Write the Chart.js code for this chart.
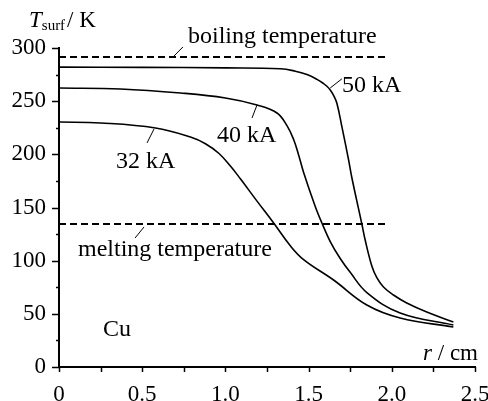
<!DOCTYPE html>
<html>
<head>
<meta charset="utf-8">
<script src="https://cdn.jsdelivr.net/npm/chart.js@4.4.1/dist/chart.umd.min.js"></script>
<style>
  html, body { margin: 0; padding: 0; background: #fff; }
  #wrap { width: 488px; height: 401px; position: relative; }
</style>
</head>
<body>
<div id="wrap"><canvas id="chart"></canvas></div>
<script>
// radius r (cm) and surface temperature (K)
const r32 = [0, 0.25, 0.58, 0.79, 0.88, 0.96, 1.03, 1.09, 1.19, 1.29, 1.39, 1.47, 1.65, 1.85, 2.05, 2.37];
const t32 = [230.4, 229.5, 224.8, 216.3, 210, 201, 189, 177, 156, 135.4, 114, 101, 81.8, 58.3, 46.1, 37.6];

const r40 = [0, 0.37, 0.73, 1.0, 1.19, 1.31, 1.37, 1.41, 1.44, 1.47, 1.54, 1.58, 1.63, 1.69, 1.75, 1.85, 2.05, 2.37];
const t40 = [262.4, 261.5, 257.7, 253, 246.4, 238.9, 227, 214, 199.4, 183, 151, 135.4, 118, 102, 89, 70, 50.8, 39.5];

const r50 = [0, 0.5, 1.0, 1.33, 1.42, 1.49, 1.55, 1.59, 1.61, 1.63, 1.65, 1.67, 1.70, 1.74, 1.76, 1.82, 1.84, 1.88, 1.91, 1.95, 2.01, 2.09, 2.21, 2.37];
const t50 = [282, 281.8, 281.3, 280.5, 278.2, 275, 270.5, 266.5, 264, 260.5, 255.5, 248, 226, 195, 178, 134.5, 119.4, 95, 84, 75.2, 67.7, 60.2, 51.7, 42.3];

const boilingR = [0, 1.97];
const boilingT = [291.5, 291.5];
const meltingR = [0, 1.97];
const meltingT = [134.5, 134.5];

const xTicks = [0, 0.5, 1.0, 1.5, 2.0, 2.5];
const xTickLabels = ['0', '0.5', '1.0', '1.5', '2.0', '2.5'];
const yTicks = [0, 50, 100, 150, 200, 250, 300];
const yTickLabels = ['0', '50', '100', '150', '200', '250', '300'];

const FONT = '"Liberation Serif", "Times New Roman", serif';

const toPoints = (xs, ys) => xs.map((x, i) => ({ x, y: ys[i] }));

const curve = (label, xs, ys) => ({
  label,
  data: toPoints(xs, ys),
  showLine: true,
  borderColor: '#000',
  borderWidth: 1.6,
  pointRadius: 0,
  tension: 0.4
});

const dashed = (label, xs, ys) => ({
  label,
  data: toPoints(xs, ys),
  showLine: true,
  borderColor: '#000',
  borderWidth: 2,
  borderDash: [7, 4],
  pointRadius: 0
});

// text labels with leader lines, placed in data units
const notes = [
  { text: 'boiling temperature', at: [0.775, 304.7], lead: [[0.685, 291.5], [0.745, 301]] },
  { text: 'melting temperature', at: [0.114, 104.4], lead: [[0.457, 121.3], [0.511, 131.7]] },
  { text: '50 kA', at: [1.70, 258.6], lead: [[1.63, 262.4], [1.70, 271]] },
  { text: '40 kA', at: [0.95, 211.6], lead: [[1.16, 234.2], [1.19, 246.4]] },
  { text: '32 kA', at: [0.343, 187.2], lead: [[0.529, 210.7], [0.571, 223.8]] },
  { text: 'Cu', at: [0.264, 29.2] }
];

const decorPlugin = {
  id: 'decor',
  afterDraw(chart) {
    const { ctx, scales: { x, y } } = chart;
    ctx.save();
    ctx.strokeStyle = '#000';
    ctx.fillStyle = '#000';
    ctx.lineWidth = 1.5;

    // y ticks (major every 50, minor every 25), pointing out
    const ax = x.getPixelForValue(0);
    for (let v = 0; v <= 300; v += 25) {
      const py = Math.round(y.getPixelForValue(v)) + 0.5;
      const len = v % 50 === 0 ? 7 : 3;
      ctx.beginPath();
      ctx.moveTo(ax, py);
      ctx.lineTo(ax - len, py);
      ctx.stroke();
    }
    // x ticks every 0.25, pointing down
    const ay = y.getPixelForValue(0);
    for (let i = 0; i <= 10; i++) {
      const px = Math.round(x.getPixelForValue(i * 0.25)) + 0.5;
      ctx.beginPath();
      ctx.moveTo(px, ay);
      ctx.lineTo(px, ay + 5);
      ctx.stroke();
    }

    // notes
    ctx.font = '24px ' + FONT;
    ctx.textBaseline = 'alphabetic';
    ctx.textAlign = 'left';
    ctx.lineWidth = 1;
    notes.forEach(n => {
      ctx.fillText(n.text, x.getPixelForValue(n.at[0]), y.getPixelForValue(n.at[1]));
      if (n.lead) {
        ctx.beginPath();
        ctx.moveTo(x.getPixelForValue(n.lead[0][0]), y.getPixelForValue(n.lead[0][1]));
        ctx.lineTo(x.getPixelForValue(n.lead[1][0]), y.getPixelForValue(n.lead[1][1]));
        ctx.stroke();
      }
    });

    // axis titles
    const top = y.getPixelForValue(300);
    ctx.font = 'italic 23px ' + FONT;
    ctx.fillText('T', 29, top - 21);
    const w = ctx.measureText('T').width;
    ctx.font = '15px ' + FONT;
    ctx.fillText('surf', 29 + w, top - 18);
    const w2 = ctx.measureText('surf').width;
    ctx.font = '23px ' + FONT;
    ctx.fillText('/ K', 29 + w + w2 + 2, top - 21);

    const right = x.getPixelForValue(2.5);
    ctx.textAlign = 'right';
    const cm = ' / cm';
    ctx.fillText(cm, right + 3, ay - 7);
    const wcm = ctx.measureText(cm).width;
    ctx.font = 'italic 23px ' + FONT;
    ctx.fillText('r', right + 3 - wcm, ay - 7);
    ctx.restore();
  }
};

new Chart(document.getElementById('chart'), {
  type: 'scatter',
  data: {
    datasets: [
      curve('32 kA', r32, t32),
      curve('40 kA', r40, t40),
      curve('50 kA', r50, t50),
      dashed('boiling temperature', boilingR, boilingT),
      dashed('melting temperature', meltingR, meltingT)
    ]
  },
  options: {
    responsive: true,
    maintainAspectRatio: false,
    animation: false,
    layout: { padding: { top: 48, right: 13, left: 0, bottom: 0 } },
    plugins: { legend: { display: false }, tooltip: { enabled: false } },
    scales: {
      x: {
        type: 'linear',
        min: 0,
        max: 2.5,
        afterBuildTicks: s => { s.ticks = xTicks.map(v => ({ value: v })); },
        afterFit: s => { s.height = 34; s.paddingLeft = 0; s.paddingRight = 0; },
        grid: { display: false, drawTicks: false },
        border: { display: true, color: '#000', width: 2 },
        ticks: {
          color: '#000',
          padding: 14,
          maxRotation: 0,
          font: { family: FONT, size: 23 },
          callback: v => xTickLabels[xTicks.indexOf(v)] ?? ''
        }
      },
      y: {
        type: 'linear',
        min: 0,
        max: 300,
        afterBuildTicks: s => { s.ticks = yTicks.map(v => ({ value: v })); },
        afterFit: s => { s.width = 59; },
        grid: { display: false, drawTicks: false },
        border: { display: true, color: '#000', width: 2 },
        ticks: {
          color: '#000',
          padding: 13,
          font: { family: FONT, size: 23 },
          callback: v => yTickLabels[yTicks.indexOf(v)] ?? ''
        }
      }
    }
  },
  plugins: [decorPlugin]
});
</script>
</body>
</html>
